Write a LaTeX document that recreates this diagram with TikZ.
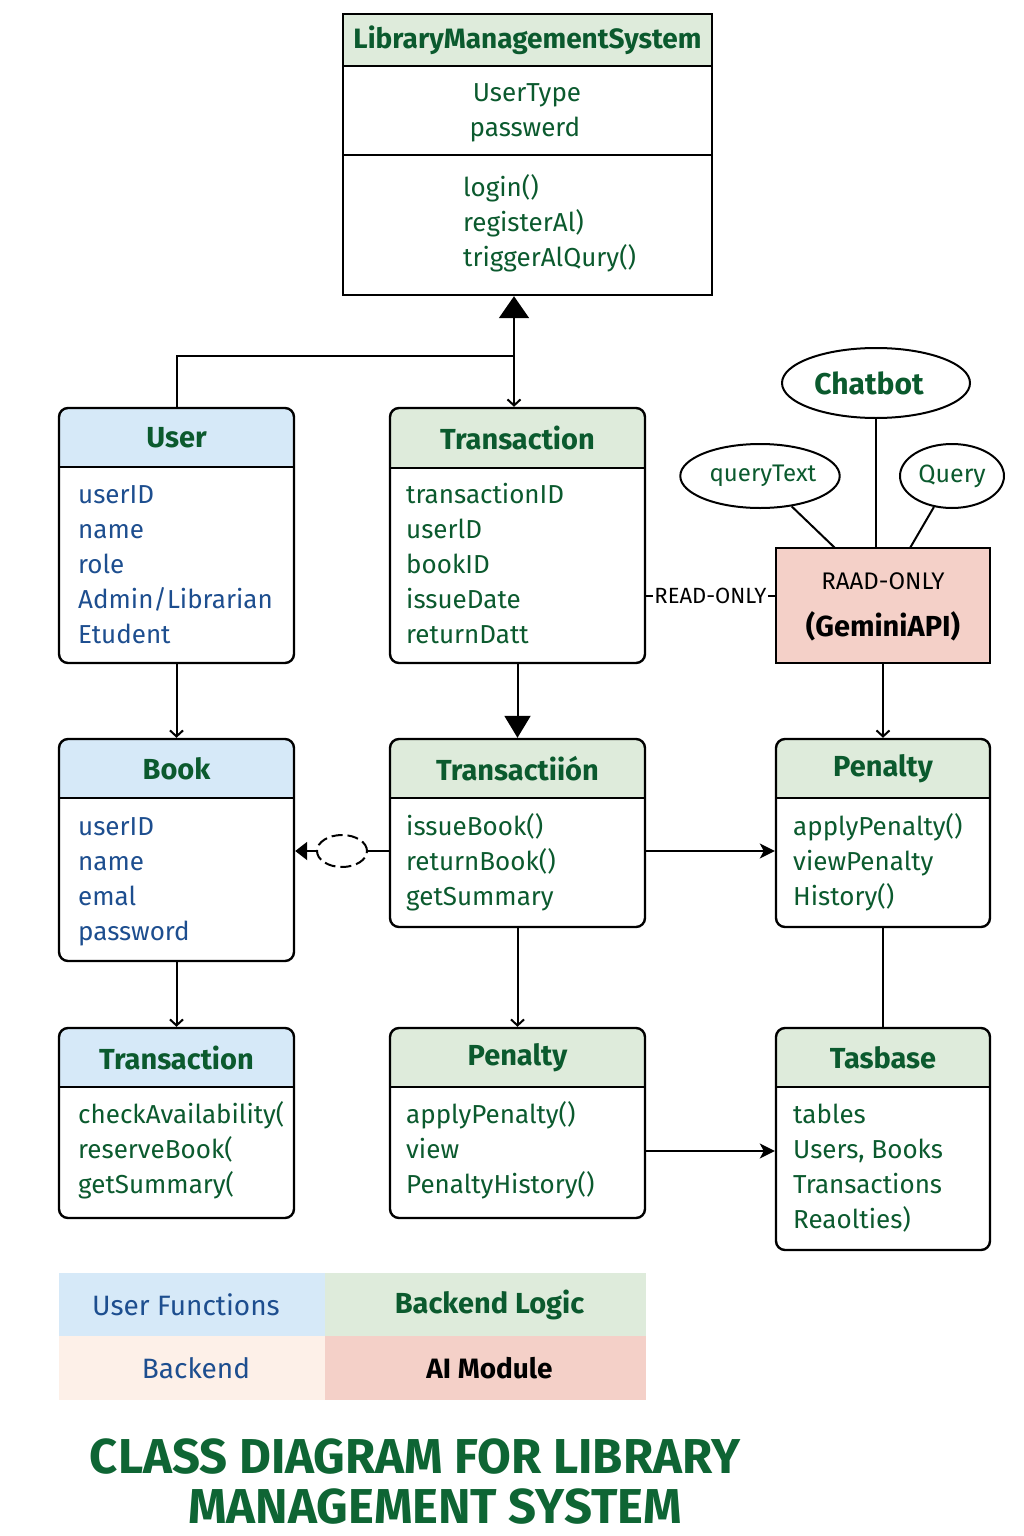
\documentclass[tikz,border=0pt]{standalone}
\usepackage{fontspec}
\setmainfont{Fira Sans}
\usepackage{graphicx}
\usetikzlibrary{arrows.meta,shapes.geometric,fit,calc}
\definecolor{dg}{HTML}{0B5A2E}
\definecolor{tg}{HTML}{0E6534}
\definecolor{db}{HTML}{1D4E8F}
\definecolor{bluehead}{HTML}{D6E9F8}
\definecolor{greenhead}{HTML}{DEEBDB}
\definecolor{pinkbox}{HTML}{F4D0C8}
\definecolor{peach}{HTML}{FDF0E8}
\tikzset{
  boxline/.style={draw=black, line width=2.4pt},
  conn/.style={line width=2pt},
  openarr/.style={-{Straight Barb[length=6pt,width=13pt,line width=2pt]}},
  hdr/.style={font=\fontsize{29}{32}\selectfont\bfseries, text=dg, inner sep=0pt},
  gbody/.style={font=\fontsize{26}{30}\selectfont, text=dg, inner sep=0pt},
  bbody/.style={font=\fontsize{26}{30}\selectfont, text=db, inner sep=0pt},
  oval/.style={ellipse, draw=black, line width=2pt, inner sep=0pt},
}
\newcommand\umlbox[9]{%
  \begin{scope}
    \clip[rounded corners=#9] (#2,#3) rectangle (#4,#5);
    \fill[#7] (#2,#3) rectangle (#4,#6);
  \end{scope}
  \node[boxline, rounded corners=#9, inner sep=0pt, fit={(#2,#3)(#4,#5)}] (#1) {};
  \draw[line width=2.4pt] (#2,#6) -- (#4,#6);
  \node[hdr] (#1-title) at ($(#2,#3)!0.5!(#4,#6)$) {#8};
}
\newcommand\textlines[5]{%
  \foreach \t [count=\i from 0] in {#5} {\node[#4, anchor=base west] (#1-\i) at ({#2},{#3+35*\i}) {\t};}%
}
\begin{document}
\begin{tikzpicture}[x=1pt,y=-1pt]
\useasboundingbox (0,0) rectangle (1024,1536);
\fill[white] (0,0) rectangle (1024,1536);

% main class
\umlbox{lms}{343}{14}{712}{295}{66}{greenhead}{\fontsize{28}{30}\selectfont LibraryManagementSystem}{0pt}
\draw[line width=2.4pt] (343,155) -- (712,155);
\node[gbody, anchor=base] (lms-a1) at (527,102) {UserType};
\node[gbody, anchor=base] (lms-a2) at (525,137) {passwerd};
\textlines{lms-m}{463}{196}{gbody}{login(),registerAl),triggerAlQury()}

% row 1
\umlbox{user}{59}{408}{294}{663}{467}{bluehead}{User}{9pt}
\textlines{user-a}{78}{503}{bbody}{userID,name,role,Admin/Librarian,Etudent}
\umlbox{txa}{390}{408}{645}{663}{468}{greenhead}{Transaction}{9pt}
\textlines{txa-a}{406}{503}{gbody}{transactionID,userlD,bookID,issueDate,returnDatt}

% AI part
\node[boxline, fill=pinkbox, inner sep=0pt, fit={(776,548)(990,663)}] (gem) {};
\node[inner sep=0pt, font=\fontsize{24}{26}\selectfont] (gem-l1) at (883,581) {RAAD-ONLY};
\node[inner sep=0pt, font=\fontsize{29}{32}\selectfont\bfseries] (gem-l2) at (883,626) {(GeminiAPI)};
\node[oval, minimum width=188pt, minimum height=70pt, font=\fontsize{30}{32}\selectfont\bfseries, text=dg] (chat) at (876,383) {\hspace*{-14pt}Chatbot};
\node[oval, minimum width=134pt, minimum height=64pt, font=\fontsize{24}{28}\selectfont, text=dg] (qt) at (760,476) {\hspace*{6pt}queryText};
\node[oval, minimum width=104pt, minimum height=64pt, font=\fontsize{25}{28}\selectfont, text=dg] (qq) at (952,476) {Query};
\coordinate (gq1) at (835,548);
\coordinate (gq2) at (910,548);
\draw[conn] (chat) -- (chat |- gem.north);
\draw[conn] (qt) -- (gq1);
\draw[conn] (qq) -- (gq2);
\draw[conn] (txa.east |- 0,596) -- node[fill=white, inner sep=1pt, font=\fontsize{22}{24}\selectfont] (ro) {READ-ONLY} (gem.west |- 0,596);

% row 2
\umlbox{book}{59}{739}{294}{961}{798}{bluehead}{Book}{9pt}
\textlines{book-a}{78}{835}{bbody}{userID,name,emal,password}
\umlbox{txb}{390}{739}{645}{927}{798}{greenhead}{Transactiión}{9pt}
\textlines{txb-m}{406}{835}{gbody}{issueBook(),returnBook(),getSummary}
\umlbox{pena}{776}{739}{990}{927}{798}{greenhead}{Penalty}{9pt}
\textlines{pena-m}{793}{835}{gbody}{applyPenalty(),viewPenalty,History()}

% row 3
\umlbox{txc}{59}{1028}{294}{1218}{1087}{bluehead}{Transaction}{9pt}
\textlines{txc-m}{78}{1123}{gbody}{checkAvailability(,reserveBook(,getSummary(}
\umlbox{penb}{390}{1028}{645}{1218}{1087}{greenhead}{Penalty}{9pt}
\textlines{penb-m}{406}{1123}{gbody}{applyPenalty(),view,PenaltyHistory()}
\umlbox{dbase}{776}{1028}{990}{1250}{1087}{greenhead}{Tasbase}{9pt}
\textlines{dbase-m}{793}{1123}{gbody}{tables,{Users, Books},Transactions,Reaolties)}

% connectors
\coordinate (j) at (514,356);
\draw[conn] (user.north) |- (j);
\draw[conn, -{Triangle[length=22pt,width=30pt]}] (j) -- (j |- lms.south);
\draw[conn, openarr] (j) -- (j |- txa.north);
\draw[conn, openarr] (user.south) -- (book.north);
\draw[conn, -{Triangle[length=22pt,width=26pt]}] (txa.south) -- (txb.north);
\draw[conn, openarr] (gem.south) -- (pena.north);
\node[ellipse, draw=black, line width=2pt, dash pattern=on 11pt off 5pt, minimum width=50pt, minimum height=32pt, inner sep=0pt] (dep) at (342,851) {};
\draw[conn] (txb.west |- dep) -- (dep);
\draw[conn, -{Triangle[length=12pt,width=18pt]}] (dep) -- (book.east |- dep);
\draw[conn, -{Stealth[length=15pt,width=15pt,inset=4pt]}] (txb.east |- 0,851) -- (pena.west |- 0,851);
\draw[conn, openarr] (book.south) -- (txc.north);
\draw[conn, openarr] (txb.south) -- (penb.north);
\draw[conn] (pena.south) -- (dbase.north);
\draw[conn, -{Stealth[length=15pt,width=15pt,inset=4pt]}] (penb.east |- 0,1151) -- (dbase.west |- 0,1151);

% legend
\node[fill=bluehead, minimum width=266pt, minimum height=63pt, inner sep=0pt, font=\fontsize{28}{30}\selectfont, text=db] (lg1) at (192,1304.5) {\hspace*{-12pt}User Functions};
\node[fill=greenhead, minimum width=321pt, minimum height=63pt, inner sep=0pt, font=\fontsize{29}{30}\selectfont\bfseries, text=dg] (lg2) at (485.5,1304.5) {\hspace*{8pt}Backend Logic};
\node[fill=peach, minimum width=266pt, minimum height=64pt, inner sep=0pt, font=\fontsize{28}{30}\selectfont, text=db] (lg3) at (192,1368) {\hspace*{8pt}Backend};
\node[fill=pinkbox, minimum width=321pt, minimum height=64pt, inner sep=0pt, font=\fontsize{28}{30}\selectfont\bfseries, text=black] (lg4) at (485.5,1368) {\hspace*{8pt}AI Module};

% title
\node[inner sep=0pt, font=\fontsize{49}{56}\selectfont\bfseries, text=tg] (t1) at (415,1457) {CLASS DIAGRAM FOR LIBRARY};
\node[inner sep=0pt, font=\fontsize{49}{56}\selectfont\bfseries, text=tg] (t2) at (435,1507) {MANAGEMENT SYSTEM};
\end{tikzpicture}
\end{document}
